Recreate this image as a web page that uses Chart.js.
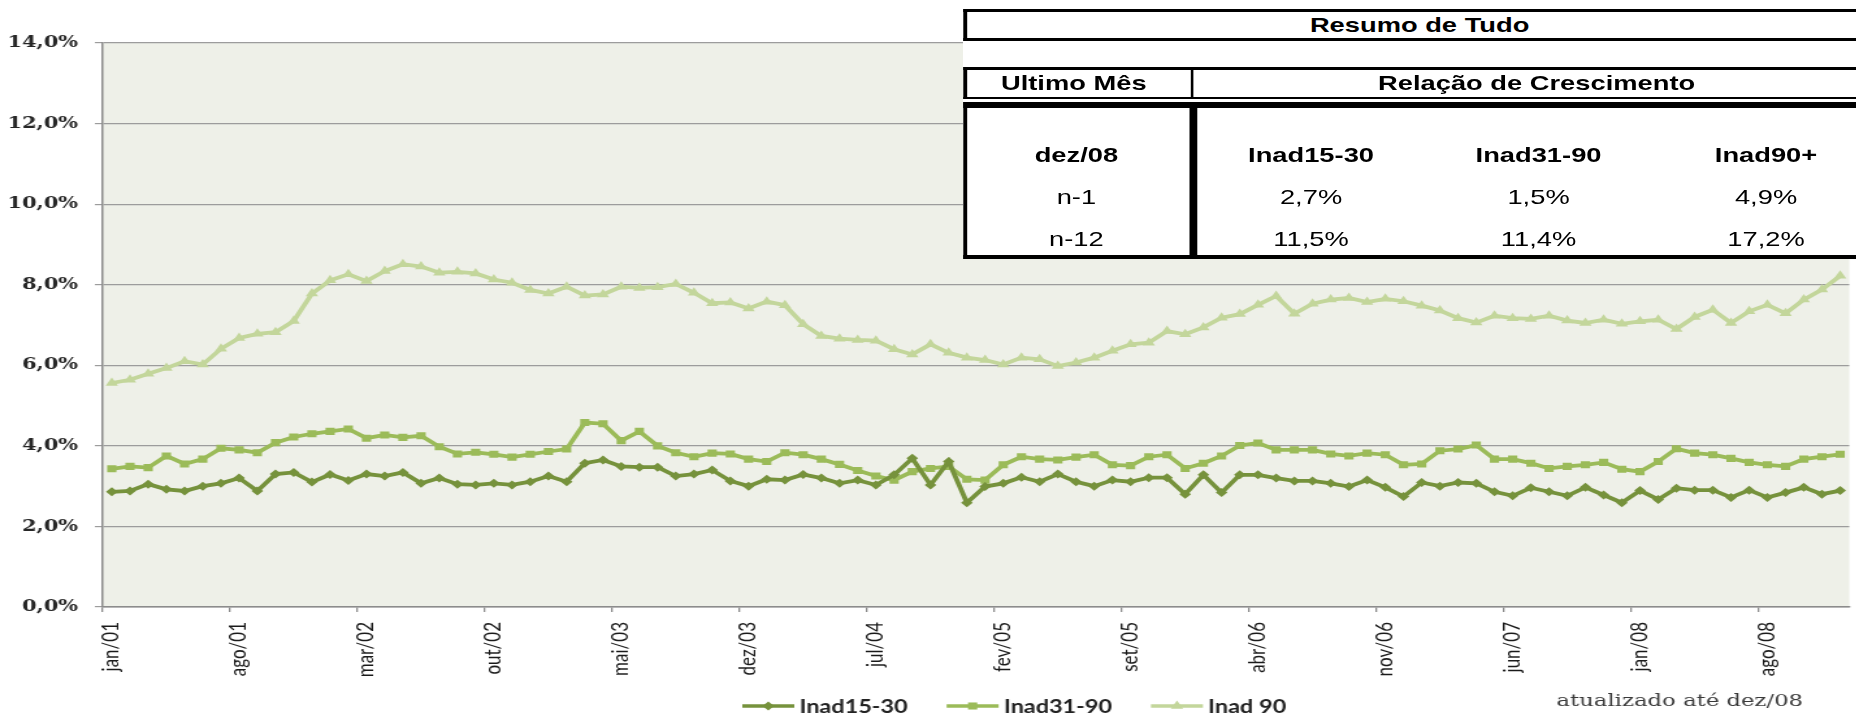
<!DOCTYPE html>
<html lang="pt-BR">
<head>
<meta charset="utf-8">
<title>Inadimplência - Resumo de Tudo</title>
<script src="https://cdn.jsdelivr.net/npm/chart.js@4.4.0/dist/chart.umd.min.js"></script>
<style>
  html, body { margin: 0; padding: 0; background: #fff; overflow: hidden; }
  /* the original picture is stretched sideways, so the whole stage is too */
  #stage { position: relative; width: 1428px; height: 716px; overflow: hidden;
           transform: scaleX(1.3); transform-origin: 0 0; }
  #chart-wrap { position: absolute; left: 0; top: 0; width: 1428px; height: 716px; }
  #resumo { position: absolute; left: 741px; top: 9px; width: 702px; height: 250px;
            background: #fff; color: #000;
            font-family: 'Liberation Sans', Arial, sans-serif; font-size: 21px; }
  #resumo .box { position: absolute; left: 0; width: 702px; box-sizing: border-box;
                 border: 0 solid #000; border-left-width: 3.5px; }
  #resumo .txt { position: absolute; width: 320px; height: 24px; line-height: 24px;
                 text-align: center; white-space: nowrap; }
  #resumo .b { font-weight: bold; }
  #resumo .div { position: absolute; background: #000; }
</style>
</head>
<body>
<div id="stage">
  <div id="chart-wrap"><canvas id="inadChart"></canvas></div>
  <div id="resumo"></div>
</div>
<script>
// categorias: jan/01 .. dez/08
const meses = ['jan', 'fev', 'mar', 'abr', 'mai', 'jun', 'jul', 'ago', 'set', 'out', 'nov', 'dez'];
const anos = ['01', '02', '03', '04', '05', '06', '07', '08'];
const categorias = [];
anos.forEach(a => meses.forEach(m => categorias.push(m + '/' + a)));

// series (% da carteira)
const inad1530 = [
  2.86, 2.88, 3.05, 2.92, 2.88, 3.00, 3.07, 3.20, 2.88, 3.30,
  3.34, 3.10, 3.29, 3.14, 3.30, 3.25, 3.34, 3.07, 3.20, 3.05,
  3.03, 3.07, 3.03, 3.11, 3.25, 3.11, 3.57, 3.65, 3.49, 3.47,
  3.47, 3.25, 3.30, 3.40, 3.13, 3.00, 3.17, 3.15, 3.29, 3.20,
  3.07, 3.15, 3.03, 3.28, 3.69, 3.03, 3.61, 2.59, 2.99, 3.07,
  3.22, 3.11, 3.30, 3.11, 3.00, 3.15, 3.11, 3.21, 3.21, 2.80,
  3.28, 2.84, 3.28, 3.28, 3.20, 3.13, 3.13, 3.07, 2.99, 3.15,
  2.97, 2.74, 3.09, 3.00, 3.09, 3.07, 2.86, 2.76, 2.96, 2.86,
  2.76, 2.97, 2.78, 2.59, 2.89, 2.67, 2.95, 2.90, 2.90, 2.72,
  2.90, 2.72, 2.84, 2.97, 2.80, 2.89
];
const inad3190 = [
  3.43, 3.49, 3.46, 3.75, 3.55, 3.67, 3.94, 3.90, 3.83, 4.08,
  4.22, 4.30, 4.36, 4.42, 4.19, 4.27, 4.21, 4.25, 3.98, 3.80,
  3.84, 3.79, 3.72, 3.79, 3.86, 3.92, 4.58, 4.55, 4.13, 4.36,
  4.00, 3.83, 3.73, 3.82, 3.80, 3.67, 3.61, 3.83, 3.78, 3.67,
  3.54, 3.39, 3.25, 3.15, 3.36, 3.44, 3.49, 3.17, 3.15, 3.53,
  3.73, 3.67, 3.65, 3.72, 3.78, 3.53, 3.51, 3.73, 3.78, 3.44,
  3.57, 3.75, 4.01, 4.07, 3.90, 3.90, 3.90, 3.80, 3.75, 3.82,
  3.78, 3.53, 3.55, 3.88, 3.92, 4.02, 3.67, 3.67, 3.57, 3.44,
  3.49, 3.53, 3.59, 3.42, 3.36, 3.61, 3.93, 3.82, 3.78, 3.69,
  3.59, 3.53, 3.49, 3.67, 3.73, 3.79
];
const inad90 = [
  5.56, 5.64, 5.79, 5.93, 6.10, 6.02, 6.41, 6.68, 6.78, 6.82,
  7.10, 7.78, 8.11, 8.26, 8.09, 8.34, 8.51, 8.45, 8.30, 8.32,
  8.28, 8.13, 8.05, 7.87, 7.78, 7.95, 7.73, 7.76, 7.95, 7.92,
  7.94, 8.02, 7.80, 7.54, 7.56, 7.41, 7.58, 7.49, 7.02, 6.73,
  6.66, 6.63, 6.61, 6.40, 6.27, 6.52, 6.31, 6.19, 6.13, 6.02,
  6.19, 6.15, 5.98, 6.07, 6.19, 6.36, 6.52, 6.56, 6.85, 6.77,
  6.94, 7.18, 7.27, 7.50, 7.72, 7.28, 7.53, 7.63, 7.67, 7.57,
  7.65, 7.59, 7.48, 7.36, 7.17, 7.06, 7.23, 7.17, 7.15, 7.23,
  7.11, 7.05, 7.13, 7.03, 7.09, 7.13, 6.90, 7.20, 7.38, 7.05,
  7.34, 7.50, 7.29, 7.63, 7.88, 8.22
];

// quadro "Resumo de Tudo"
const resumoTitulo = 'Resumo de Tudo';
const resumoColunas = ['dez/08', 'Inad15-30', 'Inad31-90', 'Inad90+'];
const resumoLinhas = [
  ['n-1', '2,7%', '1,5%', '4,9%'],
  ['n-12', '11,5%', '11,4%', '17,2%']
];
const notaRodape = 'atualizado até dez/08';

// ---- quadro (html por cima do canvas) ----
const resumo = document.getElementById('resumo');

function addBox(top, height, bt, bb) {
  const d = document.createElement('div');
  d.className = 'box';
  d.style.top = top + 'px';
  d.style.height = height + 'px';
  d.style.borderTopWidth = bt + 'px';
  d.style.borderBottomWidth = bb + 'px';
  resumo.appendChild(d);
}
function addBar(left, top, w, h) {
  const d = document.createElement('div');
  d.className = 'div';
  d.style.cssText = `left:${left}px;top:${top}px;width:${w}px;height:${h}px`;
  resumo.appendChild(d);
}
function addText(text, cx, cy, bold) {
  const d = document.createElement('div');
  d.className = 'txt' + (bold ? ' b' : '');
  d.style.left = (cx - 160) + 'px';
  d.style.top = (cy - 12) + 'px';
  d.textContent = text;
  resumo.appendChild(d);
}

addBox(0, 32, 3, 3);
addBox(58, 31.5, 3, 2.5);
addBar(174.5, 58, 2.5, 31.5);
addBox(93, 157, 6.5, 4);
addBar(174.4, 93, 5.5, 157);

addText(resumoTitulo, 351, 16, true);
addText('Ultimo Mês', 85, 74, true);
addText('Relação de Crescimento', 441, 74, true);

const colX = [87, 267.5, 442.5, 617.5];
const rowY = [146, 188, 230];
resumoColunas.forEach((t, i) => addText(t, colX[i], rowY[0], true));
resumoLinhas.forEach((linha, r) => {
  linha.forEach((t, i) => addText(t, colX[i], rowY[r + 1], false));
});

// ---- grafico ----
const fundoPlot = {
  id: 'fundoPlot',
  beforeDraw(chart) {
    const { ctx, chartArea: a } = chart;
    ctx.save();
    ctx.fillStyle = '#eef0e8';
    ctx.fillRect(a.left, a.top, a.right - a.left, a.bottom - a.top);
    ctx.restore();
  }
};

// legenda desenhada a mao para ficar na mesma posicao do original
const legendaBaixo = {
  id: 'legendaBaixo',
  afterDraw(chart) {
    const ctx = chart.ctx;
    const y = 706;
    let x = 571;
    ctx.save();
    ctx.font = 'bold 18px Lato';
    ctx.textBaseline = 'middle';
    chart.data.datasets.forEach(ds => {
      ctx.strokeStyle = ds.borderColor;
      ctx.fillStyle = ds.borderColor;
      ctx.lineWidth = 3.5;
      ctx.beginPath();
      ctx.moveTo(x, y);
      ctx.lineTo(x + 40, y);
      ctx.stroke();
      Chart.helpers.drawPoint(ctx, { pointStyle: ds.pointStyle, rotation: 0, radius: ds.pointRadius, borderWidth: 0 }, x + 20, y);
      ctx.fillStyle = '#222';
      ctx.fillText(ds.label, x + 44, y + 1);
      x += 44 + ctx.measureText(ds.label).width + 30;
    });
    ctx.font = '17.5px "DejaVu Serif"';
    ctx.fillStyle = '#3a3a3a';
    ctx.textAlign = 'right';
    ctx.fillText(notaRodape, 1387, 701);
    ctx.restore();
  }
};

const ctxInad = document.getElementById('inadChart').getContext('2d');
new Chart(ctxInad, {
  type: 'line',
  data: {
    labels: categorias,
    datasets: [
      { label: 'Inad15-30', data: inad1530, borderColor: '#76923c', backgroundColor: '#76923c',
        pointStyle: 'rectRot', pointRadius: 4.5 },
      { label: 'Inad31-90', data: inad3190, borderColor: '#9bbb59', backgroundColor: '#9bbb59',
        pointStyle: 'rect', pointRadius: 5 },
      { label: 'Inad 90', data: inad90, borderColor: '#c3d69b', backgroundColor: '#c3d69b',
        pointStyle: 'triangle', pointRadius: 5.5 }
    ]
  },
  options: {
    responsive: true,
    maintainAspectRatio: false,
    devicePixelRatio: 1,
    animation: false,
    layout: { padding: { top: 43, left: 0, right: 1, bottom: 0 } },
    elements: {
      line: { borderWidth: 3.8, tension: 0 },
      point: { borderWidth: 0 }
    },
    plugins: {
      legend: { display: false },
      tooltip: { enabled: false }
    },
    scales: {
      x: {
        offset: true,
        grid: {
          offset: true,
          drawOnChartArea: false,
          tickLength: 5,
          lineWidth: 1.3,
          color: c => (c.index % 7 === 0 ? '#8c8c8c' : 'rgba(0,0,0,0)')
        },
        border: { color: '#8c8c8c', width: 1.5 },
        ticks: {
          autoSkip: false,
          minRotation: 90,
          maxRotation: 90,
          padding: 10,
          color: '#1a1a1a',
          font: { family: 'Lato', size: 17 },
          callback: (v, i) => (i % 7 === 0 ? categorias[i] : '')
        },
        afterFit: s => { s.height = 109; s.paddingLeft = 0; s.paddingRight = 0; }
      },
      y: {
        min: 0,
        max: 14,
        grid: { color: '#9c9c9c', lineWidth: 1.2, tickLength: 6 },
        border: { color: '#8c8c8c', width: 1.5 },
        ticks: {
          stepSize: 2,
          padding: 13,
          color: '#262626',
          font: { family: 'DejaVu Serif', size: 16, weight: 'bold' },
          callback: v => v.toFixed(1).replace('.', ',') + '%'
        },
        afterFit: s => { s.width = 79; }
      }
    }
  },
  plugins: [fundoPlot, legendaBaixo]
});
</script>
</body>
</html>
